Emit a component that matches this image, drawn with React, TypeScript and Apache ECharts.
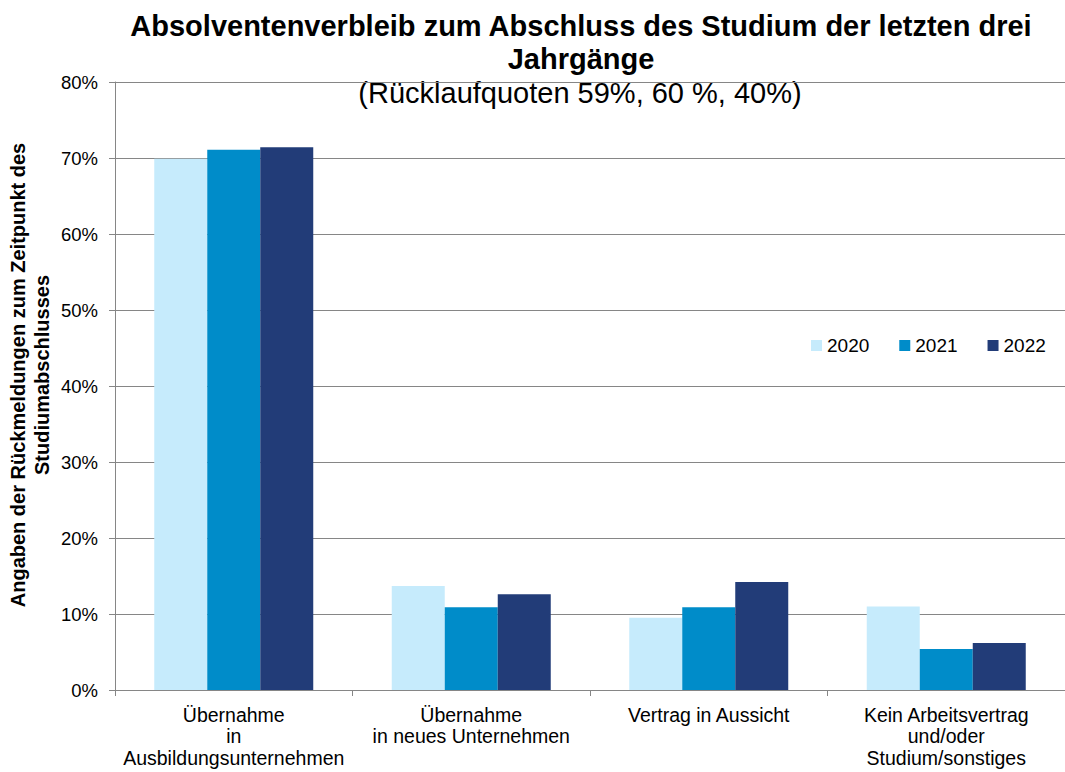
import React, { useEffect, useRef } from "react";
import * as echarts from "echarts";

const categories = [
  "Übernahme\nin\nAusbildungsunternehmen",
  "Übernahme\nin neues Unternehmen",
  "Vertrag in Aussicht",
  "Kein Arbeitsvertrag\nund/oder\nStudium/sonstiges",
];
const seriesNames = ["2020", "2021", "2022"];
const values2020 = [69.9, 13.7, 9.5, 11.0];
const values2021 = [71.1, 10.9, 10.9, 5.4];
const values2022 = [71.4, 12.6, 14.2, 6.2];
const colors = ["#C6EBFC", "#008CC9", "#223C78"];
const yTicks = [0, 10, 20, 30, 40, 50, 60, 70, 80];

const FONT = "Liberation Sans, Arial, sans-serif";

export default function App() {
  const ref = useRef<HTMLDivElement>(null);
  useEffect(() => {
    if (!ref.current) return;
    const chart = echarts.init(ref.current, undefined, { renderer: "svg" });
    const data = [values2020, values2021, values2022];
    chart.setOption({
      animation: false,
      backgroundColor: "#ffffff",
      textStyle: { fontFamily: FONT, color: "#000" },
      grid: { left: 115, top: 82, width: 963, height: 608, containLabel: false },
      legend: {
        left: 806,
        top: 331,
        itemWidth: 11,
        itemHeight: 11,
        itemGap: 30,
        icon: "rect",
        textStyle: { fontSize: 19, color: "#000", fontFamily: FONT },
        data: seriesNames,
      },
      xAxis: {
        type: "category",
        data: categories,
        axisLine: { lineStyle: { color: "#868686", width: 1 } },
        axisTick: { show: true, length: 6, lineStyle: { color: "#868686" } },
        axisLabel: {
          fontSize: 19.5,
          lineHeight: 21.5,
          color: "#000",
          fontFamily: FONT,
          margin: 14,
          interval: 0,
        },
      },
      yAxis: {
        type: "value",
        min: yTicks[0],
        max: yTicks[yTicks.length - 1],
        interval: 10,
        axisLine: { show: true, lineStyle: { color: "#868686", width: 1 } },
        axisTick: { show: true, length: 6, lineStyle: { color: "#868686" } },
        splitLine: { lineStyle: { color: "#868686", width: 1 } },
        axisLabel: {
          fontSize: 18.5,
          color: "#000",
          fontFamily: FONT,
          margin: 17,
          formatter: (v: number) => `${v}%`,
        },
      },
      graphic: [
        {
          type: "text",
          x: 581,
          y: 9,
          style: {
            text: "Absolventenverbleib zum Abschluss des Studium der letzten drei\nJahrgänge",
            textAlign: "center",
            textVerticalAlign: "top",
            font: `bold 29px ${FONT}`,
            lineHeight: 33,
            fill: "#000",
          },
        },
        {
          type: "text",
          x: 580,
          y: 93,
          style: {
            text: "(Rücklaufquoten 59%, 60 %, 40%)",
            textAlign: "center",
            textVerticalAlign: "middle",
            font: `29px ${FONT}`,
            fill: "#000",
          },
        },
        {
          type: "text",
          x: 30,
          y: 375,
          rotation: Math.PI / 2,
          style: {
            text: "Angaben der Rückmeldungen zum Zeitpunkt des\nStudiumabschlusses",
            textAlign: "center",
            textVerticalAlign: "middle",
            font: `bold 20px ${FONT}`,
            lineHeight: 24,
            fill: "#000",
          },
        },
      ],
      series: seriesNames.map((name, i) => ({
        name,
        type: "bar",
        data: data[i],
        barWidth: 53,
        barGap: "0%",
        itemStyle: { color: colors[i] },
      })),
    });
    return () => chart.dispose();
  }, []);
  return (
    <div
      ref={ref}
      style={{ position: "fixed", left: 0, top: 0, width: 1065, height: 772 }}
    />
  );
}
